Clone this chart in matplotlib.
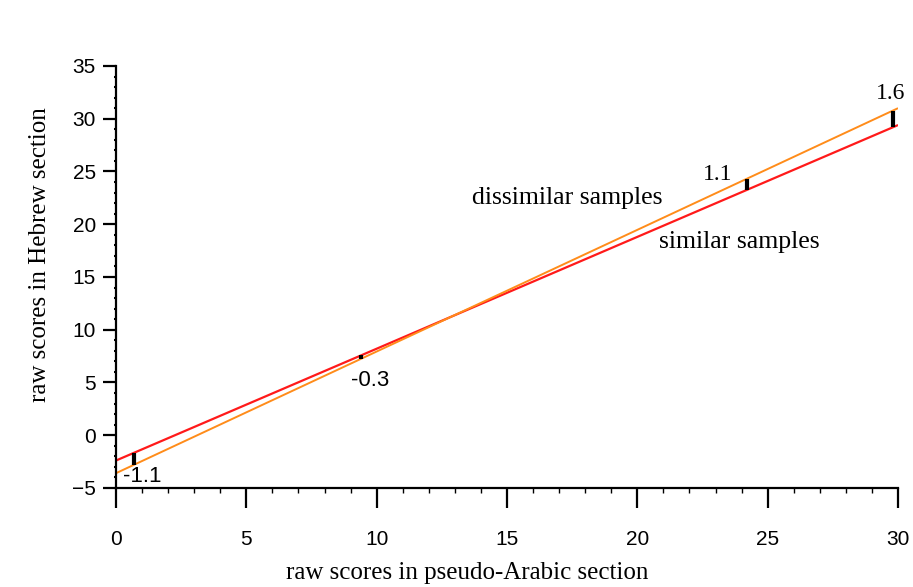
import numpy as np
import matplotlib
matplotlib.use("Agg")
import matplotlib.pyplot as plt
from matplotlib.ticker import MultipleLocator

# Data
x_ends = [0, 30]
similar = [-2.4, 29.4]       # red line endpoints
dissimilar = [-3.6, 31.0]    # orange line endpoints
bar_x = [0.7, 9.4, 24.2, 29.8]
bar_labels = ["-1.1", "-0.3", "1.1", "1.6"]
x_ticks = [0, 5, 10, 15, 20, 25, 30]
y_ticks = [-5, 0, 5, 10, 15, 20, 25, 30, 35]

fig = plt.figure(figsize=(9.13, 5.87), dpi=100)
ax = fig.add_axes([0.127, 0.1687, 0.8566, 0.7189])

ax.plot(x_ends, similar, color="#ff1a1a", lw=1.6, solid_capstyle="butt")
ax.plot(x_ends, dissimilar, color="#ff8c1a", lw=1.4, solid_capstyle="butt")

lo = np.interp(bar_x, x_ends, similar)
hi = np.interp(bar_x, x_ends, dissimilar)
ax.vlines(bar_x, lo, hi, colors="black", lw=3.0, zorder=3)

serif = ["Liberation Serif", "DejaVu Serif"]
sans = ["Liberation Sans", "DejaVu Sans"]
ax.text(1.0, -3.95, bar_labels[0], fontsize=16, family=sans, ha="center", va="center")
ax.text(9.75, 5.2, bar_labels[1], fontsize=16, family=sans, ha="center", va="center")
ax.text(23.1, 24.7, bar_labels[2], fontsize=17, family=serif, ha="center", va="center")
ax.text(29.7, 32.4, bar_labels[3], fontsize=17, family=serif, ha="center", va="center")
ax.text(17.3, 22.5, "dissimilar samples", fontsize=18.5, family=serif, ha="center", va="center")
ax.text(23.9, 18.3, "similar samples", fontsize=18.5, family=serif, ha="center", va="center")

ax.set_xlim(0, 30)
ax.set_ylim(-5, 35)
for s in ["top", "right"]:
    ax.spines[s].set_visible(False)
for s in ["left", "bottom"]:
    ax.spines[s].set_linewidth(1.6)
    ax.spines[s].set_color("black")

ax.set_xticks(x_ticks)
ax.set_yticks(y_ticks)
ax.xaxis.set_minor_locator(MultipleLocator(1))
ax.yaxis.set_minor_locator(MultipleLocator(1))
ax.tick_params(axis="x", which="major", direction="out", length=14.4, width=1.6, pad=16, labelsize=15)
ax.tick_params(axis="x", which="minor", direction="out", length=3.6, width=1.0)
ax.tick_params(axis="y", which="major", direction="out", length=9.4, width=1.6, pad=5, labelsize=15)
ax.tick_params(axis="y", which="minor", direction="out", length=1.5, width=1.5)
for lab in ax.get_xticklabels() + ax.get_yticklabels():
    lab.set_family(sans)

ax.set_xlabel("raw scores in pseudo-Arabic section", fontsize=18, family=serif, va="center")
ax.set_ylabel("raw scores in Hebrew section", fontsize=18, family=serif, va="center")
ax.xaxis.set_label_coords(0.449, -0.201)
ax.yaxis.set_label_coords(-0.097, 0.552)

fig.savefig("out.png", dpi=100)
